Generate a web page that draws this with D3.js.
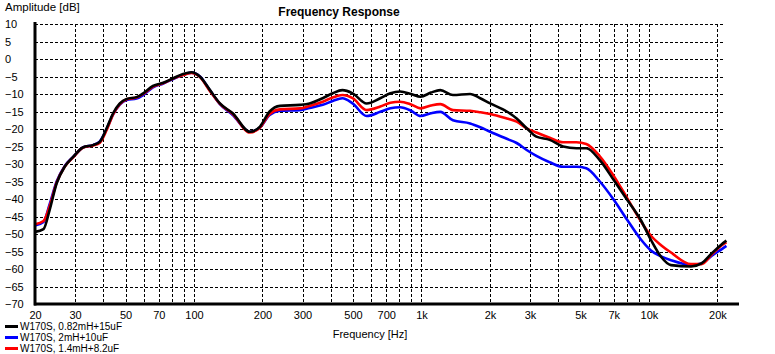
<!DOCTYPE html>
<html>
<head>
<meta charset="utf-8">
<script src="https://cdn.jsdelivr.net/npm/d3@7"></script>
<style>
  body { margin: 0; background: #fff; }
  svg { display: block; font-family: "Liberation Sans", Arial, sans-serif; }
  .grid line { stroke: #000; stroke-width: 1; stroke-dasharray: 3,2; shape-rendering: crispEdges; }
  .tick text { font-size: 11px; fill: #000; }
</style>
</head>
<body>
<div id="chart"></div>
<script>
// frequencies (Hz) shared by the three measurements
var freq = [20, 21.8, 23.2, 24.9, 27, 29.5, 32.6, 36, 38.6, 41.3, 44.1, 47.2, 50.6, 55.9, 59.8, 66, 73.3, 81, 89.5, 97.5,
  106, 117.6, 130, 148, 176, 195, 215, 239, 292, 322, 368, 407, 449, 498, 574, 659, 730, 805, 900, 990,
  1100, 1210, 1375, 1636, 1812, 2005, 2370, 2620, 2900, 3200, 3660, 4190, 4800, 5300, 6080, 7000, 8030, 9200, 10200, 11300,
  12500, 15300, 17000, 18900, 20900, 21900];

var black = [-49.4, -48.6, -43.1, -35.5, -30.8, -27.9, -25.2, -24.6, -23.6, -19.8, -15.5, -12.7, -11.4, -10.9, -9.8, -7.7, -6.8, -5.5, -4.3, -3.8,
  -5.0, -8.9, -12.7, -15.5, -20.8, -19.3, -15, -13.4, -13.1, -12.7, -11.2, -9.8, -8.9, -9.8, -12.7, -11.2, -9.8, -9.3, -10, -10.8,
  -9.6, -8.9, -10.3, -10, -11.2, -12.7, -15, -17, -19.8, -22.2, -23.1, -25, -25.5, -25.5, -28.9, -34.6, -40.3, -46, -51.7, -56.5,
  -58.9, -59.3, -58.4, -55.5, -52.9, -51.9];

var blue = [-47.6, -46.6, -41.5, -35, -30.6, -27.9, -25.2, -24.6, -23.5, -20, -15.8, -13, -11.7, -11.3, -10.3, -8.1, -7.0, -5.7, -4.5, -3.9,
  -4.9, -9.0, -12.9, -16, -20.8, -19.6, -16, -14.8, -14.6, -14.0, -13.1, -12, -11.2, -12.7, -16.3, -15.1, -14.1, -13.8, -14.8, -16.3,
  -15.5, -15.1, -17.5, -18.4, -19.5, -20.8, -22.8, -24, -26, -27.7, -29.5, -30.8, -30.8, -31.2, -35, -40.2, -46, -51.5, -54.7, -56.4,
  -57.5, -58.8, -58.4, -56.2, -54.3, -53.4];

var red = [-47.2, -46.3, -42, -35.3, -30.8, -28, -25.3, -24.7, -23.9, -20.3, -15.8, -12.9, -11.5, -11, -10, -7.9, -6.9, -5.6, -4.6, -4.0,
  -5.1, -9.2, -12.8, -15.7, -21, -19.6, -15.7, -14.4, -14.1, -13.4, -12.2, -11.0, -10.3, -11.2, -14.6, -13.6, -12.5, -12.2, -13, -14.1,
  -13.3, -12.9, -14.6, -14.8, -15.2, -15.7, -17, -17.9, -19.8, -21.0, -22.5, -23.8, -23.8, -24.3, -27.8, -33.4, -39.8, -46.3, -50.5, -53.2,
  -55.3, -58.6, -58.6, -55.8, -53.2, -52.4];

var series = [
  {name: "W170S, 0.82mH+15uF", color: "#000000", values: black},
  {name: "W170S, 2mH+10uF", color: "#0000ff", values: blue},
  {name: "W170S, 1.4mH+8.2uF", color: "#ff0000", values: red}
];

var xTicks = [20, 30, 50, 70, 100, 200, 300, 500, 700, 1000, 2000, 3000, 5000, 7000, 10000, 20000];
var xGrid = [30, 40, 50, 60, 70, 80, 90, 100, 200, 300, 400, 500, 600, 700, 800, 900,
  1000, 2000, 3000, 4000, 5000, 6000, 7000, 8000, 9000, 10000, 20000];
var yTicks = [10, 5, 0, -5, -10, -15, -20, -25, -30, -35, -40, -45, -50, -55, -60, -65, -70];

var W = 775, H = 354;
var svg = d3.select("#chart").append("svg").attr("width", W).attr("height", H);

var x = d3.scaleLog().domain([20, 25000]).range([35, 739.5]);
var y = d3.scaleLinear().domain([-70, 10]).range([304, 24]);

function fmtHz(d) { return d >= 1000 ? (d / 1000) + "k" : d; }

// grid
var grid = svg.append("g").attr("class", "grid");
grid.selectAll(".h").data(yTicks.filter(function(d) { return d > -70; }))
  .enter().append("line")
  .attr("x1", 35).attr("x2", 725)
  .attr("y1", function(d) { return Math.round(y(d)) + 0.5; })
  .attr("y2", function(d) { return Math.round(y(d)) + 0.5; });
grid.selectAll(".v").data(xGrid)
  .enter().append("line")
  .attr("x1", function(d) { return Math.round(x(d)) + 0.5; })
  .attr("x2", function(d) { return Math.round(x(d)) + 0.5; })
  .attr("y1", y(10)).attr("y2", y(-70));

// axes labels through d3 axes
var xAxis = svg.append("g").attr("transform", "translate(0," + y(-70) + ")")
  .call(d3.axisBottom(x).tickValues(xTicks).tickFormat(fmtHz).tickSize(0));
xAxis.select(".domain").remove();
xAxis.selectAll("text").attr("dy", "0.71em").attr("y", 7);

var yAxis = svg.append("g").attr("transform", "translate(35,0)")
  .call(d3.axisLeft(y).tickValues(yTicks).tickSize(0));
yAxis.select(".domain").remove();
yAxis.selectAll("text").attr("text-anchor", "start").attr("x", -30).attr("dy", "0.36em");

// curves
var line = d3.line()
  .x(function(d) { return x(d[0]); })
  .y(function(d) { return y(d[1]); })
  .curve(d3.curveMonotoneX);

[series[1], series[2], series[0]].forEach(function(s) {
  svg.append("path")
    .datum(freq.map(function(f, i) { return [f, s.values[i]]; }))
    .attr("fill", "none")
    .attr("stroke", s.color)
    .attr("stroke-width", 2.6)
    .attr("stroke-linejoin", "round")
    .attr("d", line);
});

// frame
svg.append("line").attr("x1", 35).attr("x2", 35).attr("y1", 22).attr("y2", 305.5)
  .attr("stroke", "#000").attr("stroke-width", 3);
svg.append("line").attr("x1", 34).attr("x2", 739).attr("y1", 304).attr("y2", 304)
  .attr("stroke", "#000").attr("stroke-width", 3);

// titles
svg.append("text").attr("x", 5).attr("y", 11).attr("font-size", 11.5).text("Amplitude [dB]");
svg.append("text").attr("x", 339).attr("y", 15.5).attr("text-anchor", "middle")
  .attr("font-size", 12).attr("font-weight", "bold").text("Frequency Response");
svg.append("text").attr("x", 370).attr("y", 338).attr("text-anchor", "middle")
  .attr("font-size", 11).text("Frequency [Hz]");

// legend
var leg = svg.append("g");
series.forEach(function(s, i) {
  var ly = 326.5 + i * 11;
  leg.append("line").attr("x1", 5).attr("x2", 18).attr("y1", ly).attr("y2", ly)
    .attr("stroke", s.color).attr("stroke-width", 3);
  leg.append("text").attr("x", 20).attr("y", ly + 3.5).attr("font-size", 10).text(s.name);
});
</script>
</body>
</html>
